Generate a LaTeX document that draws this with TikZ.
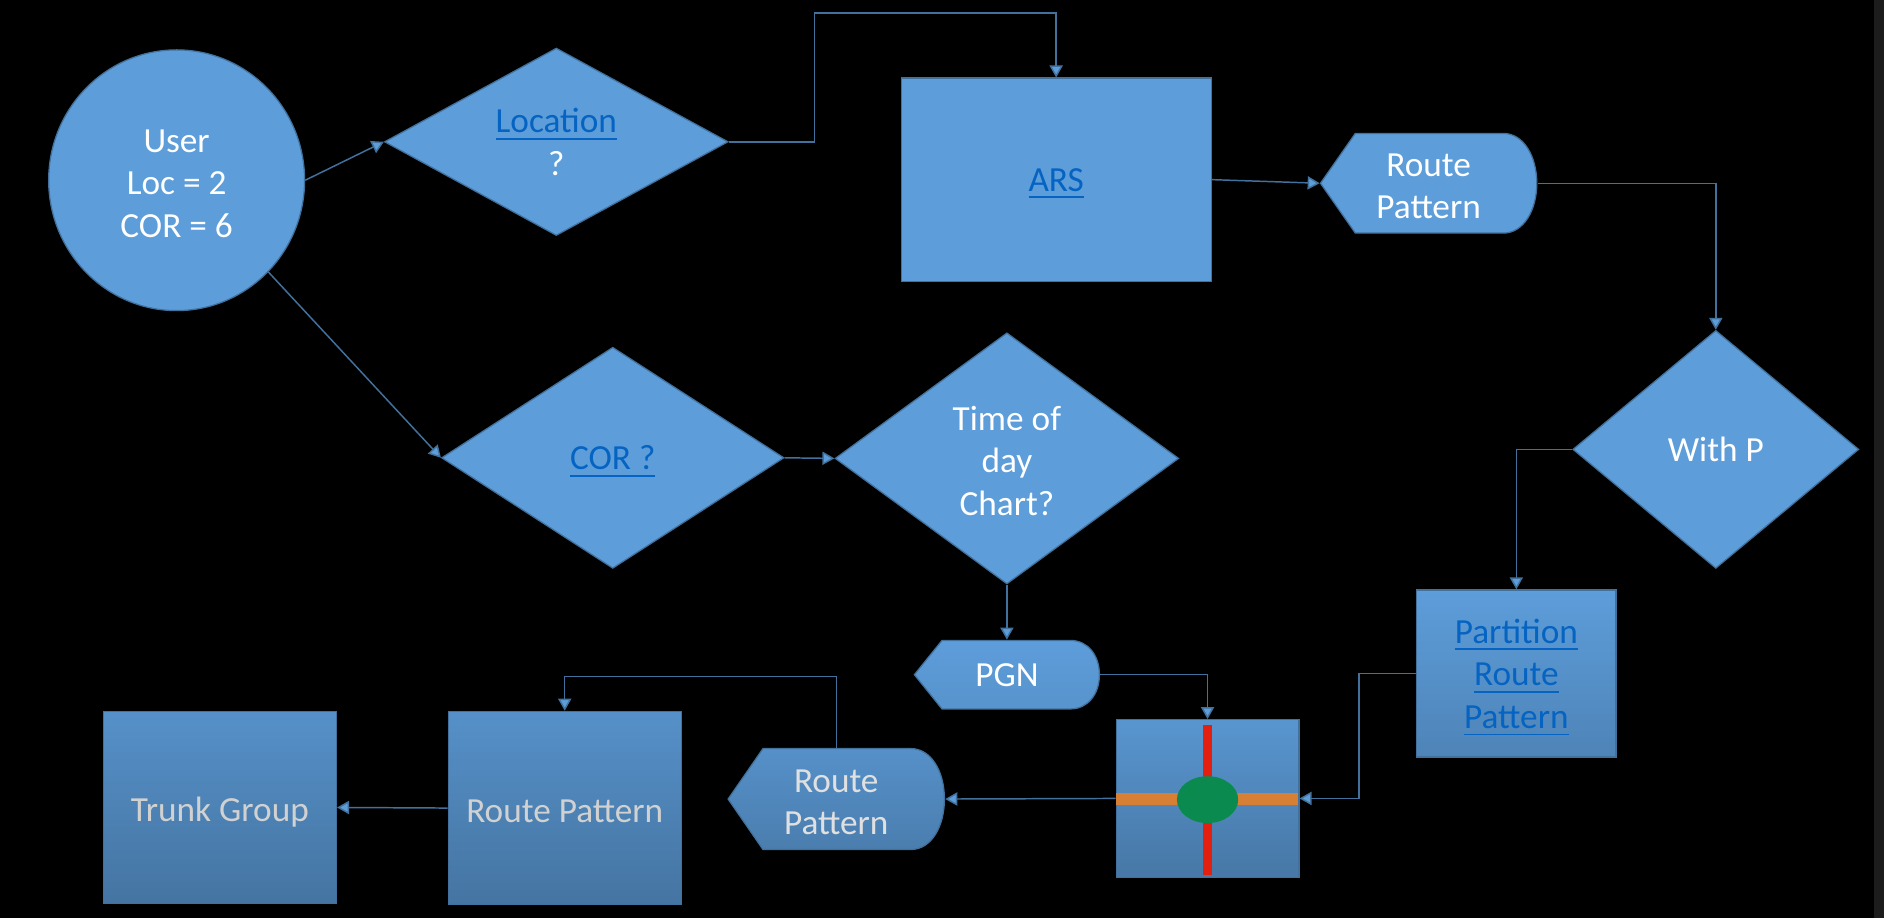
\documentclass[tikz,border=0pt]{standalone}
\usepackage{fontspec}
\setmainfont{Carlito}
\usetikzlibrary{arrows.meta,shapes.geometric}
\definecolor{boxblue}{HTML}{5D9DDA}
\definecolor{edgeblue}{HTML}{41719C}
\definecolor{linkblue}{HTML}{0563C1}
\definecolor{barred}{HTML}{E3200F}
\definecolor{barorange}{HTML}{D67F35}
\definecolor{hubgreen}{HTML}{0A8A4F}
\newcommand{\lnk}[1]{\textcolor{linkblue}{\underline{#1}}}
\newcommand{\dn}{\rule{0pt}{0.24cm}}
\tikzset{
  lbl/.style={text=white,font=\fontsize{8.35}{10.1}\selectfont,align=center,inner sep=0pt,text depth=0pt},
  plain/.style={lbl,fill=boxblue,draw=edgeblue,line width=0.3pt},
  dia/.style={plain,diamond},
  tag/.style={lbl,rectangle,minimum height=#1},
  conn/.style={draw=edgeblue,line width=0.35pt,-{Triangle[length=0.1cm,width=0.11cm,fill=boxblue]}}
}
\begin{document}
\begin{tikzpicture}
   \useasboundingbox (0,0) rectangle (15.68,-7.64);
   \fill[black] (0,0) rectangle (15.68,-7.64);
   \fill[black!89] (15.597,0) rectangle (15.68,-7.64);

   % upper row
   \node[plain,ellipse,minimum width=2.13cm,minimum height=2.17cm] (user) at (1.47,-1.50) {\dn User\\Loc = 2\\COR = 6};
   \node[dia,shape aspect=1.83,minimum width=2.86cm,minimum height=1.56cm] (loc) at (4.63,-1.18) {\lnk{Location}\\?};
   \node[plain,minimum width=2.58cm,minimum height=1.69cm] (ars) at (8.79,-1.495) {\lnk{ARS}};
   \filldraw[fill=boxblue,draw=edgeblue,line width=0.3pt] (10.99,-1.525) -- (11.28,-1.11) -- (12.51,-1.11)
     .. controls (12.68,-1.11) and (12.79,-1.30) .. (12.79,-1.525)
     .. controls (12.79,-1.75) and (12.68,-1.94) .. (12.51,-1.94) -- (11.28,-1.94) -- cycle;
   \node[tag=0.83cm,minimum width=1.80cm] (rptop) at (11.89,-1.525) {\dn Route\\Pattern};

   % middle row
   \node[dia,shape aspect=1.55,minimum width=2.85cm,minimum height=1.84cm] (cor) at (5.10,-3.81) {\lnk{COR ?}};
   \node[dia,shape aspect=1.37,minimum width=2.86cm,minimum height=2.09cm] (tod) at (8.38,-3.815) {\dn Time of\\day\\Chart?};
   \node[dia,shape aspect=1.2,minimum width=2.38cm,minimum height=1.98cm] (withp) at (14.28,-3.74) {With P};
   \node[plain,draw=edgeblue,top color=boxblue,bottom color=boxblue!84!black,minimum width=1.66cm,minimum height=1.39cm] (part) at (12.62,-5.605)
     {\lnk{Partition}\\\lnk{Route}\\\lnk{Pattern}};

   % lower row
   \filldraw[top color=boxblue,bottom color=boxblue!94!black,draw=edgeblue,line width=0.3pt] (7.61,-5.615) -- (7.84,-5.33) -- (8.91,-5.33)
     .. controls (9.05,-5.33) and (9.15,-5.45) .. (9.15,-5.615)
     .. controls (9.15,-5.78) and (9.05,-5.90) .. (8.91,-5.90) -- (7.84,-5.90) -- cycle;
   \node[tag=0.57cm,minimum width=1.54cm] (pgn) at (8.38,-5.615) {PGN};

   \node[plain,top color=boxblue!95!black,bottom color=boxblue!76!black,minimum width=1.52cm,minimum height=1.31cm] (mat) at (10.05,-6.645) {};
   \fill[barred] (10.015,-6.03) rectangle (10.09,-7.28);
   \fill[barorange] (9.29,-6.60) rectangle (10.80,-6.70);
   \fill[hubgreen] (10.05,-6.655) ellipse (0.255cm and 0.195cm);

   \filldraw[top color=boxblue!92!black,bottom color=boxblue!80!black,draw=edgeblue,line width=0.3pt] (6.06,-6.65) -- (6.35,-6.23) -- (7.58,-6.23)
     .. controls (7.75,-6.23) and (7.86,-6.42) .. (7.86,-6.65)
     .. controls (7.86,-6.88) and (7.75,-7.07) .. (7.58,-7.07) -- (6.35,-7.07) -- cycle;
   \node[tag=0.84cm,minimum width=1.80cm,text=white!88!black] (rpbot) at (6.96,-6.65) {\dn Route\\Pattern};

   \node[plain,top color=boxblue!92!black,bottom color=boxblue!74!black,text=white!82!black,minimum width=1.94cm,minimum height=1.61cm] (rprect) at (4.70,-6.725) {\dn Route Pattern};
   \node[plain,top color=boxblue!92!black,bottom color=boxblue!74!black,text=white!82!black,minimum width=1.94cm,minimum height=1.60cm] (trunk) at (1.83,-6.72) {\dn Trunk Group};

   % connectors
   \coordinate (topbend) at (6.78,-0.11);
   \coordinate (partbend) at (11.31,-6.00);
   \coordinate (botbend) at (5.80,-5.63);
   \draw[conn] (user.east) -- (loc.west);
   \draw[conn] (user.-45) -- (cor.west);
   \draw[conn] (loc.east) -| (topbend) -| (ars.north);
   \draw[conn] (ars.east) -- (rptop.west);
   \draw[conn] (rptop.east) -| (withp.north);
   \draw[conn] (withp.west) -| (part.north);
   \draw[conn] (cor.east) -- (tod.west);
   \draw[conn] (tod.south) -- (pgn.north);
   \draw[conn] (pgn.east) -| (mat.north);
   \draw[conn] (part.west) -| (partbend) |- (mat.east);
   \draw[conn] (mat.west) -- (rpbot.east);
   \draw[conn] (rpbot.north) |- (botbend) -| (rprect.north);
   \draw[conn] (rprect.west) -- (trunk.east);
\end{tikzpicture}
\end{document}
